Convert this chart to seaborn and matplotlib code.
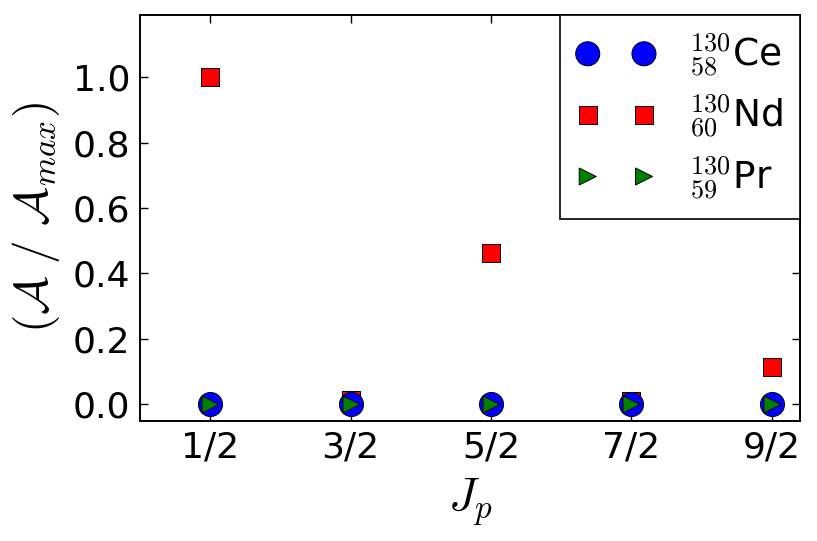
import matplotlib
matplotlib.use("Agg")
import matplotlib.pyplot as plt
import seaborn as sns
import pandas as pd

J_VALUES = [0.5, 1.5, 2.5, 3.5, 4.5]
J_LABELS = ["1/2", "3/2", "5/2", "7/2", "9/2"]
CE_AMP = [0.0, 0.0, 0.0, 0.0, 0.0]
ND_AMP = [1.0, 0.014, 0.462, 0.011, 0.113]
PR_AMP = [0.0, 0.0, 0.0, 0.0, 0.0]

sns.set_theme(style="white", rc={
    "xtick.direction": "in",
    "ytick.direction": "in",
    "xtick.top": True,
    "ytick.right": True,
    "xtick.bottom": True,
    "ytick.left": True,
    "xtick.major.size": 5.5,
    "ytick.major.size": 5.5,
    "xtick.major.width": 1.0,
    "ytick.major.width": 1.0,
    "axes.linewidth": 1.4,
    "axes.edgecolor": "black",
    "axes.labelcolor": "black",
    "text.color": "black",
    "mathtext.fontset": "cm",
})
plt.rcParams["font.family"] = ["DejaVu Sans"]

df = pd.DataFrame({"J": J_VALUES, "Ce": CE_AMP, "Nd": ND_AMP, "Pr": PR_AMP})

fig = plt.figure(figsize=(8.17, 5.41), dpi=100)
ax = fig.add_axes([0.1714, 0.2224, 0.8076, 0.7499])

# draw order: square behind circle, triangle on top
sns.scatterplot(data=df, x="J", y="Ce", ax=ax, marker="o", s=300, color="blue",
                edgecolor="black", linewidth=0.7, zorder=3,
                label=r"$^{130}_{58}$Ce")
sns.scatterplot(data=df, x="J", y="Nd", ax=ax, marker="s", s=170, color="red",
                edgecolor="black", linewidth=0.7, zorder=2,
                label=r"$^{130}_{60}$Nd")
sns.scatterplot(data=df, x="J", y="Pr", ax=ax, marker=">", s=150, color="green",
                edgecolor="black", linewidth=0.7, zorder=4,
                label=r"$^{130}_{59}$Pr")

ax.set_xlim(0, 4.7)
ax.set_ylim(-0.05, 1.19)
ax.set_xticks(J_VALUES)
ax.set_xticklabels(J_LABELS)
ax.set_yticks([0.0, 0.2, 0.4, 0.6, 0.8, 1.0])
ax.set_yticklabels(["0.0", "0.2", "0.4", "0.6", "0.8", "1.0"])
ax.tick_params(labelsize=26, colors="black", pad=7)

ax.set_xlabel(r"$J_p$", fontsize=34, labelpad=8)
ax.set_ylabel(r"$(\mathcal{A}\ /\ \mathcal{A}_{max})$", fontsize=34, labelpad=8)

leg = ax.legend(loc="upper right", scatterpoints=2, scatteryoffsets=[0.5],
                fontsize=27, frameon=True, fancybox=False, framealpha=1,
                borderaxespad=0, handlelength=2.1, handletextpad=0.9,
                labelspacing=0.38, borderpad=0.45)
leg.get_frame().set_edgecolor("black")
leg.get_frame().set_linewidth(1.2)

fig.savefig("out.png", dpi=100)
